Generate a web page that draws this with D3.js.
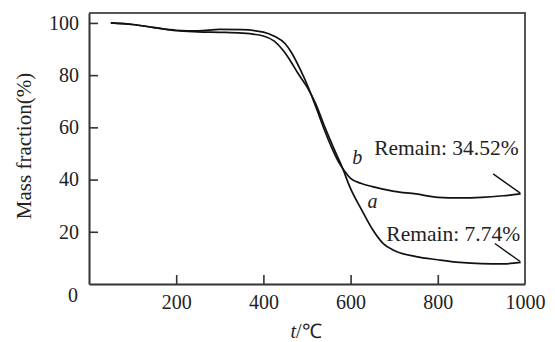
<!DOCTYPE html>
<html>
<head>
<meta charset="utf-8">
<script src="https://cdn.jsdelivr.net/npm/d3@7/dist/d3.min.js"></script>
<style>
  html, body { margin: 0; padding: 0; background: #fff; }
  svg { display: block; }
  svg text { font-family: "Liberation Serif", "Times New Roman", serif; fill: #222; }
</style>
</head>
<body>
<svg id="chart" width="555" height="342"></svg>
<script>
// ---- Data ----
const tempA = [50, 100, 150, 200, 250, 300, 350, 400, 425, 445, 460, 480, 500, 520, 540, 560, 580, 600, 625, 650, 675, 700, 750, 800, 850, 900, 950, 990];
const massA = [100, 99.4, 98.2, 97.0, 96.6, 96.4, 96.1, 95.0, 93.0, 89.5, 86.0, 80.5, 75.5, 69.0, 60.5, 52.5, 45.0, 36.5, 28.5, 21.0, 15.5, 12.8, 10.5, 9.3, 8.3, 7.8, 7.7, 8.3];
const tempB = [50, 100, 150, 200, 250, 300, 350, 400, 425, 450, 465, 485, 500, 520, 540, 560, 575, 585, 600, 625, 650, 700, 750, 800, 850, 900, 950, 990];
const massB = [100, 99.4, 98.2, 97.2, 97.0, 97.5, 97.4, 96.5, 94.9, 92.0, 88.5, 82.0, 76.5, 68.0, 59.0, 51.0, 46.0, 43.5, 40.5, 38.5, 37.3, 35.5, 34.5, 33.2, 33.0, 33.2, 33.8, 34.5];
const xTicks = [200, 400, 600, 800, 1000];
const yTicks = [20, 40, 60, 80, 100];
const seriesLabels = ["a", "b"];
const seriesLabelPos = [[650, 29], [615, 46]];          // data coords of italic labels
const remainTexts = ["Remain: 34.52%", "Remain: 7.74%"];
const remainPos = [[654, 49.6], [682, 16.5]];            // data coords (text start, baseline)
const pointerB = [[927, 42.2], [989, 34.8]];
const pointerA = [[931, 15.5], [989, 8.6]];

// ---- Layout ----
const FONT = '"Liberation Serif", "Times New Roman", serif';
const svg = d3.select("#chart");
const mLeft = 89, mRight = 525, mTop = 13, mBottom = 284;
const x = d3.scaleLinear().domain([0, 1000]).range([mLeft, mRight]);
const y = d3.scaleLinear().domain([0, 103.8]).range([mBottom, mTop]);

// frame (top & right)
svg.append("path")
  .attr("d", `M${mLeft},${mTop}H${mRight}V${mBottom}`)
  .attr("fill", "none").attr("stroke", "#555").attr("stroke-width", 2);

// axes
const yAxis = d3.axisLeft(y).tickValues(yTicks).tickFormat(d3.format("d"))
  .tickSizeInner(-9).tickSizeOuter(0).tickPadding(10);
const gy = svg.append("g").attr("transform", `translate(${mLeft},0)`).call(yAxis);
const xAxis = d3.axisBottom(x).tickValues(xTicks).tickFormat(d3.format("d"))
  .tickSizeInner(-9).tickSizeOuter(0).tickPadding(11);
const gx = svg.append("g").attr("transform", `translate(0,${mBottom})`).call(xAxis);
[gy, gx].forEach(g => {
  g.attr("font-family", null).attr("font-size", null);
  g.select(".domain").attr("stroke", "#333").attr("stroke-width", 2);
  g.selectAll(".tick line").attr("stroke", "#333").attr("stroke-width", 1.6);
  g.selectAll(".tick text").attr("font-size", 20).attr("fill", "#222")
    .style("font-family", FONT);
});
// remove 1000 tick line (sits on the frame)
gx.selectAll(".tick").filter(d => d === 1000).select("line").remove();

// origin "0" label
svg.append("text").attr("x", mLeft - 11).attr("y", mBottom + 18)
  .attr("text-anchor", "end").attr("font-size", 20).style("font-family", FONT).text("0");

// axis titles
svg.append("text")
  .attr("transform", `translate(31,146) rotate(-90)`)
  .attr("text-anchor", "middle").attr("font-size", 21).style("font-family", FONT)
  .text("Mass fraction(%)");
const xt = svg.append("text").attr("x", 306).attr("y", 338)
  .attr("text-anchor", "middle").attr("font-size", 20).style("font-family", FONT);
xt.append("tspan").attr("font-style", "italic").text("t");
xt.append("tspan").text("/℃");

// curves
const line = d3.line().x(d => x(d[0])).y(d => y(d[1])).curve(d3.curveMonotoneX);
const dataA = tempA.map((t, i) => [t, massA[i]]);
const dataB = tempB.map((t, i) => [t, massB[i]]);
[dataA, dataB].forEach(d => {
  svg.append("path").datum(d).attr("d", line)
    .attr("fill", "none").attr("stroke", "#111").attr("stroke-width", 1.7);
});

// series labels
seriesLabels.forEach((s, i) => {
  svg.append("text").attr("x", x(seriesLabelPos[i][0])).attr("y", y(seriesLabelPos[i][1]))
    .attr("text-anchor", "middle").attr("font-style", "italic").attr("font-size", 20)
    .style("font-family", FONT).text(s);
});

// remain annotations
remainTexts.forEach((s, i) => {
  svg.append("text").attr("x", x(remainPos[i][0])).attr("y", y(remainPos[i][1]))
    .attr("font-size", 21.5).style("font-family", FONT).text(s);
});
[pointerB, pointerA].forEach(p => {
  svg.append("path").datum(p).attr("d", d3.line().x(d => x(d[0])).y(d => y(d[1])))
    .attr("fill", "none").attr("stroke", "#111").attr("stroke-width", 1.4);
});
</script>
</body>
</html>
